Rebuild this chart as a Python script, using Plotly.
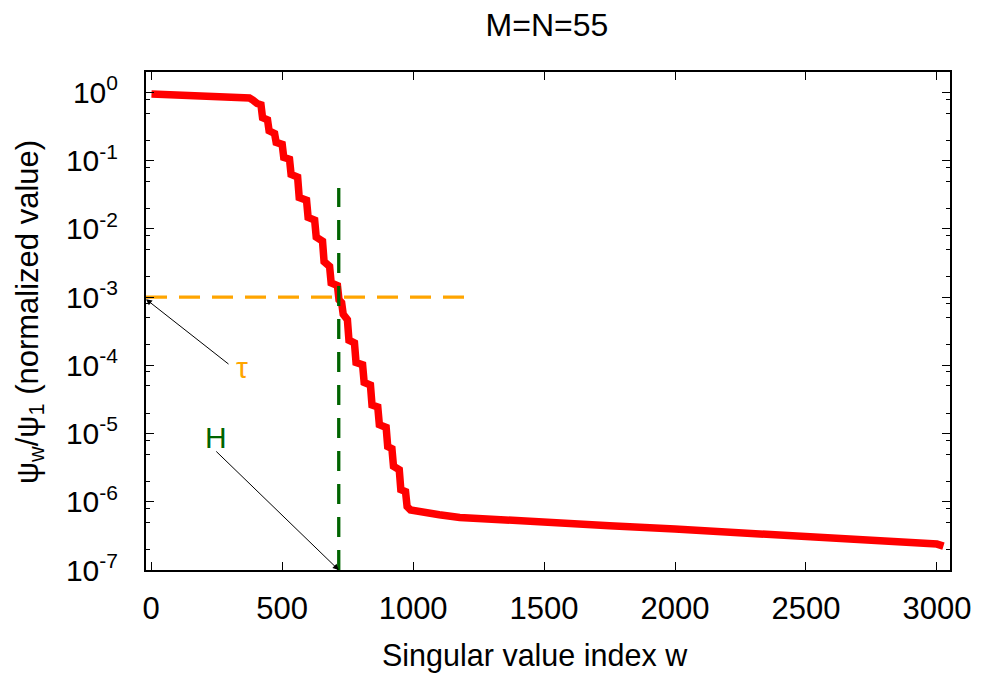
import plotly.graph_objects as go

# ---- data ----
w = [1, 100, 200, 300, 340, 360, 375, 388, 398, 404,
     419, 425, 444, 450, 471, 477, 500, 506, 528, 534,
     559, 565, 593, 599, 624, 630, 654, 660, 681, 687,
     711, 717, 727, 733, 749, 755, 776, 782, 807, 813,
     837, 843, 865, 871, 897, 903, 919, 925, 947, 953,
     971, 977,
     990, 1014, 1100, 1178, 1300, 1500, 1750, 2000, 2250, 2500, 2664, 2800, 3000, 3025]
ratio = [0.955, 0.933, 0.912, 0.902, 0.891, 0.871, 0.832, 0.776, 0.708, 0.692,
         0.661, 0.427, 0.398, 0.275, 0.251, 0.186, 0.174, 0.112, 0.105, 0.0631,
         0.0575, 0.0288, 0.0263, 0.0148, 0.0135, 7.59e-3, 6.61e-3, 3.31e-3, 2.82e-3, 1.62e-3,
         1.48e-3, 9.12e-4, 8.32e-4, 5.62e-4, 4.68e-4, 2.34e-4, 2.14e-4, 1.10e-4, 1.02e-4, 5.62e-5,
         5.13e-5, 2.63e-5, 2.45e-5, 1.35e-5, 1.23e-5, 6.46e-6, 6.03e-6, 3.31e-6, 2.95e-6, 1.51e-6,
         1.41e-6, 8.51e-7,
         7.59e-7, 7.24e-7, 6.46e-7, 5.89e-7, 5.50e-7, 5.01e-7, 4.47e-7, 3.98e-7, 3.55e-7, 3.16e-7, 2.88e-7, 2.69e-7, 2.40e-7, 2.24e-7]

tau = 1e-3
tau_x = [-20, 1200]
H = 716
H_y = [1e-7, 0.04]

x_ticks = [0, 500, 1000, 1500, 2000, 2500, 3000]
y_ticks = [1e-7, 1e-6, 1e-5, 1e-4, 1e-3, 1e-2, 1e-1, 1]
y_ticktext = ["10<sup>-7</sup>", "10<sup>-6</sup>", "10<sup>-5</sup>", "10<sup>-4</sup>",
              "10<sup>-3</sup>", "10<sup>-2</sup>", "10<sup>-1</sup>", "10<sup>0</sup>"]
y_minor = [m * d for d in [1e-7, 1e-6, 1e-5, 1e-4, 1e-3, 1e-2, 1e-1, 1] for m in (2, 5, 8)]

FONT = "Liberation Sans, Arial, sans-serif"

fig = go.Figure()
fig.add_trace(go.Scatter(x=w, y=ratio, mode="lines",
                         line=dict(color="#ff0000", width=7.5), showlegend=False))
fig.add_trace(go.Scatter(x=tau_x, y=[tau, tau], mode="lines",
                         line=dict(color="#ffa500", width=3.3, dash="21px,12px"), showlegend=False))
fig.add_trace(go.Scatter(x=[H, H], y=H_y, mode="lines",
                         line=dict(color="#006400", width=3.3, dash="20px,13px"), showlegend=False))

# the page body adds an 8px offset, so the figure is sized to the visible window
fig.update_layout(
    width=975, height=665,
    margin=dict(l=138, r=33, t=64, b=103),
    paper_bgcolor="white", plot_bgcolor="white",
    font=dict(family=FONT, size=30, color="black"),
    title=dict(text="M=N=55", x=0.5528, xanchor="center", y=0.975, yanchor="middle",
               font=dict(size=32)),
    showlegend=False,
)
fig.update_xaxes(range=[-20, 3050], tickvals=x_ticks, ticks="inside", ticklen=8,
                 tickwidth=1, tickcolor="black", mirror="ticks", showline=True,
                 linecolor="black", linewidth=2, showgrid=False, zeroline=False,
                 ticklabelstandoff=10, tickfont=dict(size=31))
fig.update_yaxes(type="log", range=[-7, 0.30103], tickvals=y_ticks, ticktext=y_ticktext,
                 ticks="inside", ticklen=8, tickwidth=1, tickcolor="black",
                 mirror="ticks", showline=True, linecolor="black", linewidth=2,
                 showgrid=False, zeroline=False, ticklabelstandoff=20, tickfont=dict(size=30),
                 minor=dict(tickvals=y_minor, ticks="inside", ticklen=4, tickwidth=1,
                            tickcolor="black", showgrid=False))

# axis titles (placed as in the reference, slightly off-centre)
fig.add_annotation(text="Singular value index w", xref="paper", yref="paper",
                   x=0.4838, y=0, xanchor="center", yanchor="middle", yshift=-85,
                   showarrow=False, font=dict(size=30.5))
fig.add_annotation(text="ψ<sub>w</sub>/ψ<sub>1</sub> (normalized value)", xref="paper",
                   yref="paper", x=0, y=0.518, xanchor="center", yanchor="middle",
                   xshift=-116, textangle=-90, showarrow=False, font=dict(size=31))

# arrows and labels
fig.add_annotation(x=-20, y=-3.03, xref="x", yref="y", text="", showarrow=True,
                   ax=84, ay=66, arrowhead=2, arrowsize=1.2, arrowwidth=1, arrowcolor="black")
fig.add_annotation(x=H, y=-7, xref="x", yref="y", text="", showarrow=True,
                   ax=-124, ay=-120, arrowhead=2, arrowsize=1.2, arrowwidth=1, arrowcolor="black")
fig.add_annotation(x=-20, y=-3.03, xref="x", yref="y", text="τ", showarrow=False,
                   xshift=96, yshift=-68, font=dict(color="#ffa500", size=30))
fig.add_annotation(x=H, y=-7, xref="x", yref="y", text="H", showarrow=False,
                   xshift=-123, yshift=133, font=dict(color="#006400", size=30))

fig.write_html("out.html")
